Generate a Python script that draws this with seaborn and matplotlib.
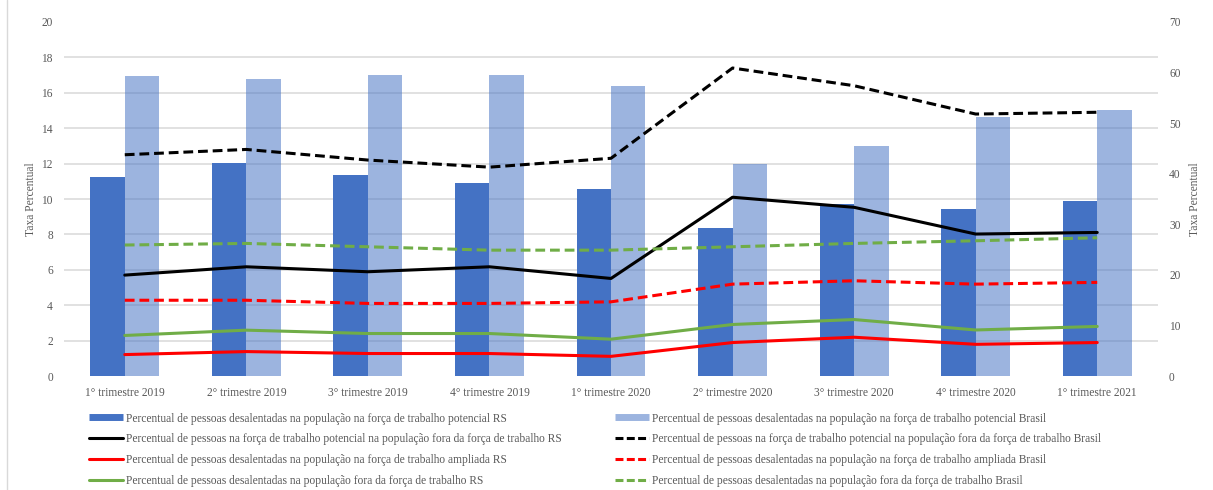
import numpy as np
import pandas as pd
import matplotlib
matplotlib.use("Agg")
import matplotlib.pyplot as plt
from matplotlib.lines import Line2D
import seaborn as sns

# Quarters
categories = ["1° trimestre 2019", "2° trimestre 2019", "3° trimestre 2019",
              "4° trimestre 2019", "1° trimestre 2020", "2° trimestre 2020",
              "3° trimestre 2020", "4° trimestre 2020", "1° trimestre 2021"]

# Bars (right axis, %)
desal_pot_rs = [39.4, 42.1, 39.7, 38.1, 37.0, 29.2, 34.0, 33.1, 34.7]
desal_pot_br = [59.3, 58.8, 59.5, 59.6, 57.4, 41.9, 45.5, 51.2, 52.5]

# Lines (left axis, %)
pot_fora_rs = [5.70, 6.17, 5.89, 6.17, 5.51, 10.1, 9.53, 8.02, 8.11]
pot_fora_br = [12.5, 12.8, 12.2, 11.8, 12.3, 17.4, 16.4, 14.8, 14.9]
desal_ampl_rs = [1.21, 1.38, 1.27, 1.27, 1.11, 1.89, 2.19, 1.79, 1.89]
desal_ampl_br = [4.28, 4.28, 4.10, 4.10, 4.19, 5.19, 5.38, 5.19, 5.29]
desal_fora_rs = [2.29, 2.59, 2.40, 2.40, 2.08, 2.91, 3.19, 2.60, 2.80]
desal_fora_br = [7.40, 7.49, 7.30, 7.11, 7.11, 7.30, 7.49, 7.64, 7.81]

bar_names = [
    "Percentual de pessoas desalentadas na população na força de trabalho potencial RS",
    "Percentual de pessoas desalentadas na população na força de trabalho potencial Brasil",
]
line_names = [
    "Percentual de pessoas na força de trabalho potencial na população fora da força de trabalho RS",
    "Percentual de pessoas na força de trabalho potencial na população fora da força de trabalho Brasil",
    "Percentual de pessoas desalentadas na população na força de trabalho ampliada RS",
    "Percentual de pessoas desalentadas na população na força de trabalho ampliada Brasil",
    "Percentual de pessoas desalentadas na população fora da força de trabalho RS",
    "Percentual de pessoas desalentadas na população fora da força de trabalho Brasil",
]
line_values = [pot_fora_rs, pot_fora_br, desal_ampl_rs, desal_ampl_br, desal_fora_rs, desal_fora_br]
line_colors = ["#000000", "#000000", "#FF0000", "#FF0000", "#70AD47", "#70AD47"]
line_dashed = [False, True, False, True, False, True]

BLUE = "#4472C4"
TXT = "#595959"
GRID = "#D9D9D9"
FS = 8.3
DASH = (3.2, 1.6)

sns.set_theme(style="white")
plt.rcParams["font.family"] = ["Liberation Serif", "DejaVu Serif"]

bars_df = pd.DataFrame({
    "quarter": categories * 2,
    "serie": [bar_names[0]] * len(categories) + [bar_names[1]] * len(categories),
    "valor": desal_pot_rs + desal_pot_br,
})
pos = np.arange(len(categories))
lines_df = pd.concat([
    pd.DataFrame({"pos": pos, "valor": v, "serie": n,
                  "regiao": "Brasil" if d else "RS"})
    for n, v, d in zip(line_names, line_values, line_dashed)
], ignore_index=True)

fig = plt.figure(figsize=(12.13, 4.90), dpi=100)
ax_bar = fig.add_axes([64 / 1213, 1 - 376 / 490, (1158 - 64) / 1213, (376 - 22) / 490])
ax_line = ax_bar.twinx()

# Bars on the right-hand scale
sns.barplot(data=bars_df, x="quarter", y="valor", hue="serie",
            palette=[BLUE, BLUE], width=0.566, gap=0, saturation=1,
            legend=False, ax=ax_bar, zorder=2)
n = len(categories)
for i, p in enumerate(ax_bar.patches):
    if i >= n:
        p.set_alpha(0.53)
    p.set_linewidth(0)

ax_bar.set_ylim(0, 70)
ax_bar.set_xlim(-0.5, n - 0.5)
ax_bar.yaxis.tick_right()
ax_bar.yaxis.set_label_position("right")
ax_bar.set_yticks(np.arange(0, 71, 10))
# gridlines follow the left-hand scale (every 2 points = 7 on the right scale)
ax_bar.set_yticks(np.arange(0, 70.1, 7), minor=True)
ax_bar.grid(True, which="minor", axis="y", color=GRID, lw=1.1, zorder=0)
ax_bar.grid(False, which="major")
ax_bar.set_axisbelow(True)
ax_bar.tick_params(axis="y", which="both", length=0, labelsize=FS,
                   labelcolor=TXT, pad=8)
ax_bar.tick_params(axis="x", length=0, labelsize=FS, labelcolor=TXT, pad=8)
ax_bar.set_xlabel("")
ax_bar.set_ylabel("Taxa Percentual", color=TXT, fontsize=FS, labelpad=6)
for s in ax_bar.spines.values():
    s.set_visible(False)

# Lines on the left-hand scale
sns.lineplot(data=lines_df, x="pos", y="valor", hue="serie", style="regiao",
             palette=dict(zip(line_names, line_colors)),
             dashes={"RS": "", "Brasil": DASH},
             style_order=["RS", "Brasil"], linewidth=2.2, legend=False,
             ax=ax_line)
ax_line.set_ylim(0, 20)
ax_line.yaxis.tick_left()
ax_line.yaxis.set_label_position("left")
ax_line.set_yticks(np.arange(0, 21, 2))
ax_line.tick_params(axis="y", length=0, labelsize=FS, labelcolor=TXT, pad=8)
ax_line.set_ylabel("Taxa Percentual", color=TXT, fontsize=FS, labelpad=3)
ax_line.set_xlabel("")
ax_line.grid(False)
for s in ax_line.spines.values():
    s.set_visible(False)
ax_line.set_xlim(-0.5, n - 0.5)

# Legend in two columns: RS on the left, Brasil on the right
def handles_for(idx_bar, idx_lines, light):
    hs = [Line2D([], [], color=BLUE, alpha=0.53 if light else 1.0, lw=5,
                 solid_capstyle="butt")]
    labs = [bar_names[idx_bar]]
    for i in idx_lines:
        ls = (0, (2.6, 1.1)) if line_dashed[i] else "-"
        hs.append(Line2D([], [], color=line_colors[i], lw=2.2, linestyle=ls))
        labs.append(line_names[i])
    return hs, labs

common = dict(frameon=False, fontsize=FS, handlelength=2.95, handletextpad=0.26,
              labelspacing=0.76, borderaxespad=0, borderpad=0, loc="upper left",
              labelcolor=TXT)
h1, l1 = handles_for(0, [0, 2, 4], False)
fig.legend(h1, l1, bbox_to_anchor=(89 / 1213, 1 - 412.5 / 490), **common)
h2, l2 = handles_for(1, [1, 3, 5], True)
fig.legend(h2, l2, bbox_to_anchor=(615 / 1213, 1 - 412.5 / 490), **common)

# chart area border
fig.add_artist(Line2D([7 / 1213, 7 / 1213], [0, 1], color=GRID, lw=1,
                      transform=fig.transFigure))

fig.savefig("out.png", dpi=100)
